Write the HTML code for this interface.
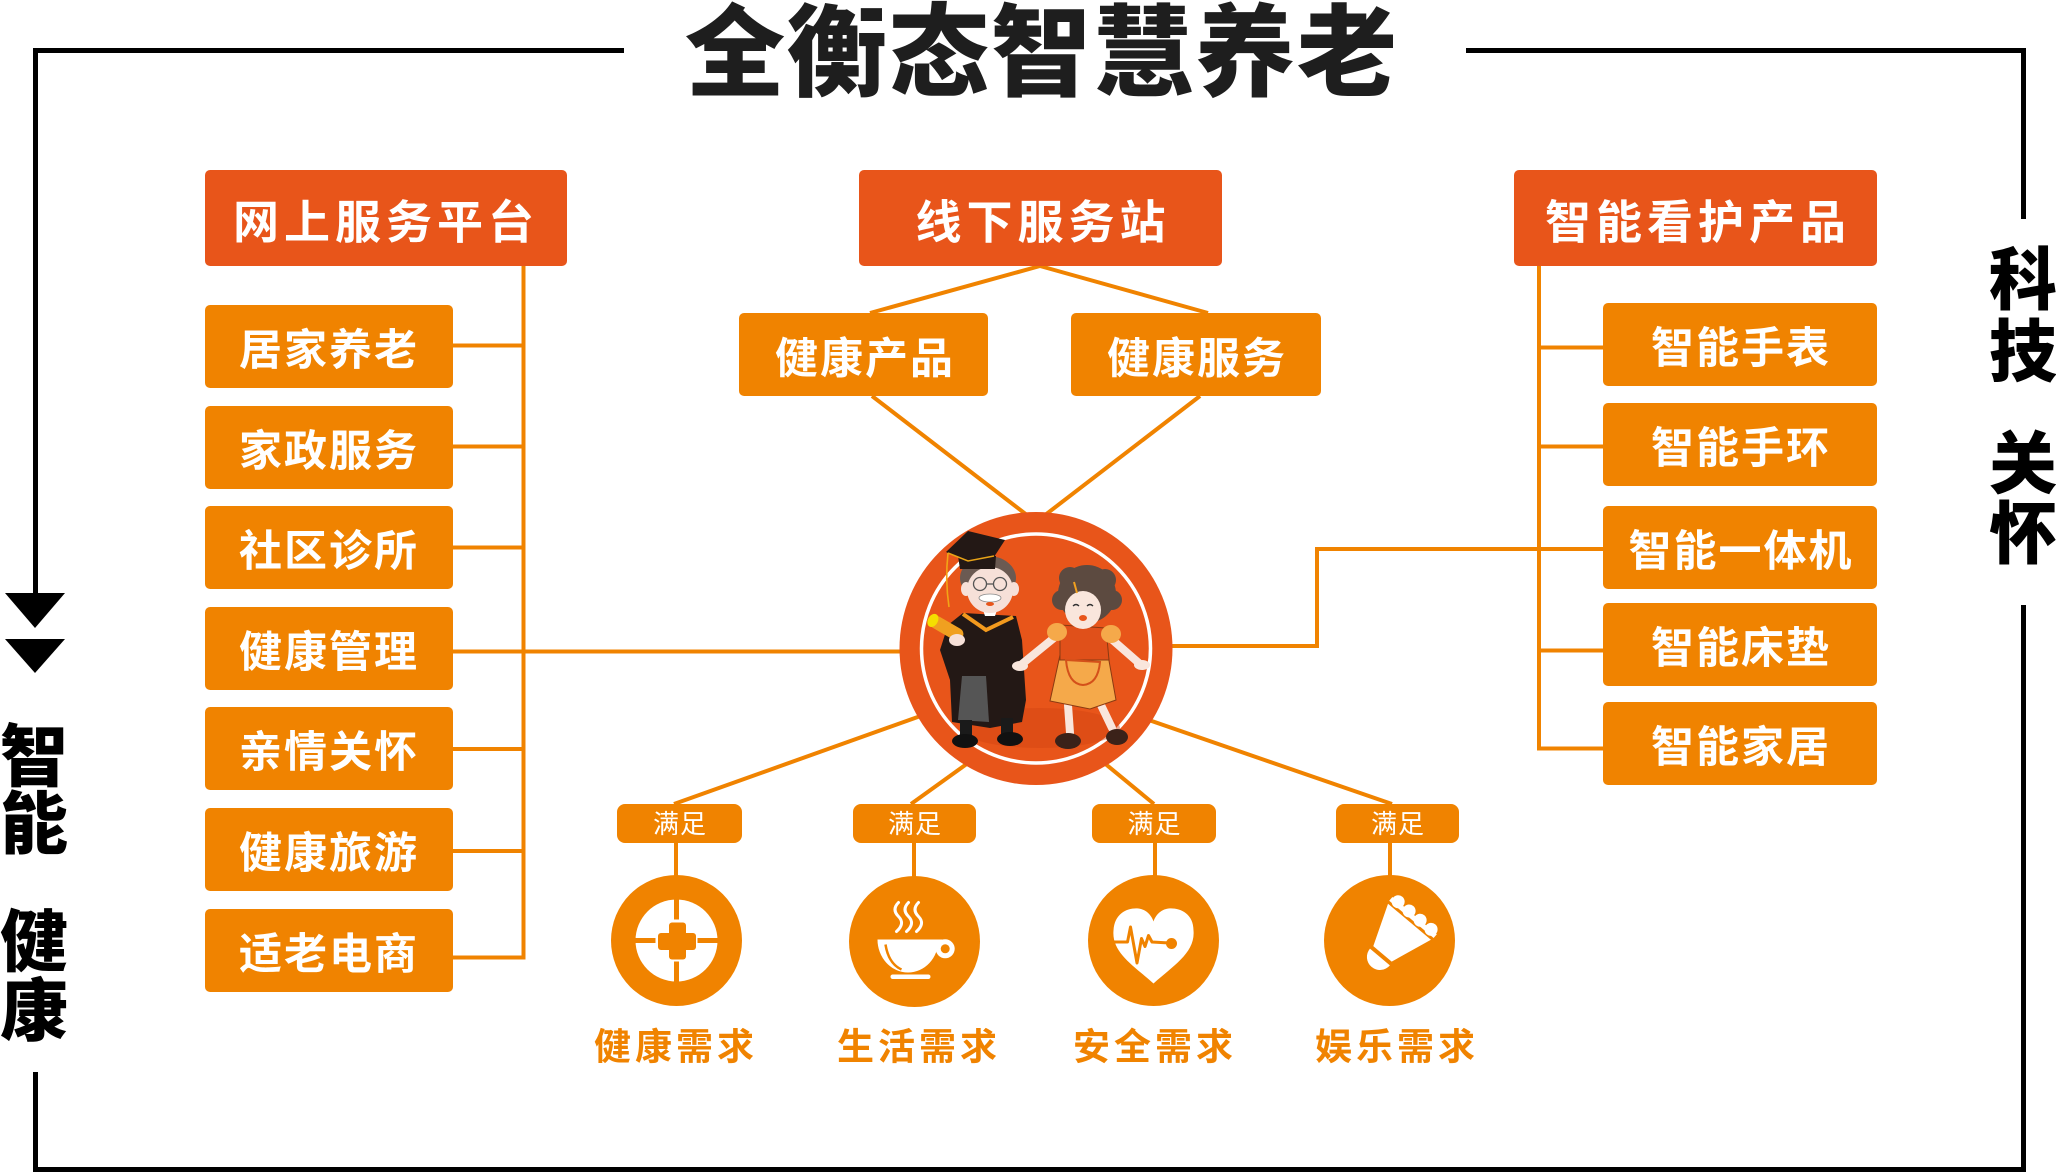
<!DOCTYPE html>
<html><head><meta charset="utf-8">
<style>
html,body{margin:0;padding:0;background:#fff;}
svg{display:block;}
text{font-family:"Liberation Sans","Noto Sans CJK SC",sans-serif;}
</style></head><body>
<svg width="2056" height="1172" viewBox="0 0 2056 1172" xmlns="http://www.w3.org/2000/svg">
<rect width="2056" height="1172" fill="#fff"/>

<!-- frame -->
<g stroke="#000" stroke-width="5" fill="none">
<path d="M624,50.5 H35.5 V596"/>
<path d="M35.5,1072 V1169.5 H2023.5 V605"/>
<path d="M1466,50.5 H2023.5 V219"/>
</g>
<polygon points="5,593 65,593 35,628" fill="#000"/>
<polygon points="5,639 65,639 35,673" fill="#000"/>

<g font-size="68" font-weight="900" fill="#000" text-anchor="middle">
<text x="34" y="781">智</text>
<text x="34" y="848">能</text>
<text x="34" y="966">健</text>
<text x="34" y="1035">康</text>
<text x="2023" y="304">科</text>
<text x="2023" y="376">技</text>
<text x="2023" y="488">关</text>
<text x="2023" y="558">怀</text>
</g>

<text x="1042" y="88" font-size="100" font-weight="900" letter-spacing="2" fill="#1e1e1e" text-anchor="middle">全衡态智慧养老</text>

<!-- orange connectors -->
<g stroke="#F08300" stroke-width="4" fill="none">
<path d="M523.5,266 V959.5"/>
<path d="M453,345.5 H523.5"/>
<path d="M453,446.5 H523.5"/>
<path d="M453,547.5 H523.5"/>
<path d="M453,651.5 H920"/>
<path d="M453,749 H523.5"/>
<path d="M453,851 H523.5"/>
<path d="M453,957.5 H525.5"/>

<path d="M1040,266 L870,313"/>
<path d="M1040,266 L1208,313"/>
<path d="M872,396 L1036,522"/>
<path d="M1200,396 L1036,522"/>

<path d="M1539,266 V750.5"/>
<path d="M1539,347.5 H1603"/>
<path d="M1539,446.5 H1603"/>
<path d="M1539,650.5 H1603"/>
<path d="M1539,748.5 H1603"/>
<path d="M1100,646 H1317 V549 H1603"/>

<path d="M930,712.6 L674,804"/>
<path d="M975,758 L911,804"/>
<path d="M1097,757 L1154,804"/>
<path d="M1140,717 L1392,804"/>

<path d="M676,843 V880"/>
<path d="M914,843 V880"/>
<path d="M1155,843 V880"/>
<path d="M1390,843 V880"/>
</g>

<!-- header boxes -->
<g fill="#E8551A">
<rect x="205" y="170" width="362" height="96" rx="5"/>
<rect x="859" y="170" width="363" height="96" rx="5"/>
<rect x="1514" y="170" width="363" height="96" rx="5"/>
</g>
<g font-size="46" font-weight="700" fill="#fff" text-anchor="middle" letter-spacing="5">
<text x="386" y="238.5">网上服务平台</text>
<text x="1043" y="238.5">线下服务站</text>
<text x="1698" y="238.5">智能看护产品</text>
</g>

<!-- item boxes -->
<g fill="#F08300">
<rect x="205" y="305" width="248" height="83" rx="5"/>
<rect x="205" y="406" width="248" height="83" rx="5"/>
<rect x="205" y="506" width="248" height="83" rx="5"/>
<rect x="205" y="607" width="248" height="83" rx="5"/>
<rect x="205" y="707" width="248" height="83" rx="5"/>
<rect x="205" y="808" width="248" height="83" rx="5"/>
<rect x="205" y="909" width="248" height="83" rx="5"/>

<rect x="739" y="313" width="249" height="83" rx="5"/>
<rect x="1071" y="313" width="250" height="83" rx="5"/>

<rect x="1603" y="303" width="274" height="83" rx="5"/>
<rect x="1603" y="403" width="274" height="83" rx="5"/>
<rect x="1603" y="506" width="274" height="83" rx="5"/>
<rect x="1603" y="603" width="274" height="83" rx="5"/>
<rect x="1603" y="702" width="274" height="83" rx="5"/>
</g>
<g font-size="43" font-weight="700" fill="#fff" text-anchor="middle" letter-spacing="2">
<text x="329" y="365">居家养老</text>
<text x="329" y="466">家政服务</text>
<text x="329" y="566">社区诊所</text>
<text x="329" y="667">健康管理</text>
<text x="329" y="767">亲情关怀</text>
<text x="329" y="868">健康旅游</text>
<text x="329" y="969">适老电商</text>

<text x="865" y="373.5">健康产品</text>
<text x="1197" y="373.5">健康服务</text>

<text x="1741" y="363">智能手表</text>
<text x="1741" y="463">智能手环</text>
<text x="1741" y="566">智能一体机</text>
<text x="1741" y="663">智能床垫</text>
<text x="1741" y="762">智能家居</text>
</g>

<!-- center circle with cartoon -->
<circle cx="1036" cy="648.5" r="136.5" fill="#E8551A"/>
<circle cx="1036" cy="648.5" r="114.5" fill="none" stroke="#fff" stroke-width="3.5"/>
<ellipse cx="1040" cy="728" rx="80" ry="20" fill="#d24512" opacity="0.45"/>

<!-- man -->
<g>
<path d="M963,613 L1016,616 L1022,640 L1026,700 L1022,722 L990,728 L952,722 L950,680 L940,650 L948,625 Z" fill="#231815"/>
<polygon points="962,676 986,676 989,722 958,720" fill="#555"/>
<polyline points="963,614 986,630 1013,617" fill="none" stroke="#f39a1e" stroke-width="4"/>
<polygon points="982,607 998,607 995,616 985,616" fill="#fff"/>
<rect x="960" y="720" width="12" height="18" fill="#1a1a1a"/>
<rect x="1001" y="718" width="12" height="18" fill="#1a1a1a"/>
<ellipse cx="965" cy="741" rx="13" ry="7" fill="#111"/>
<ellipse cx="1010" cy="739" rx="13" ry="7" fill="#111"/>
<ellipse cx="988" cy="578" rx="28" ry="22" fill="#6b5a52"/>
<ellipse cx="966" cy="589" rx="5" ry="7" fill="#f6e0d8"/>
<ellipse cx="1014" cy="589" rx="5" ry="7" fill="#f6e0d8"/>
<ellipse cx="990" cy="590" rx="23" ry="23" fill="#f6e0d8"/>
<circle cx="980" cy="584" r="6.5" fill="none" stroke="#555" stroke-width="1.3"/>
<circle cx="1000" cy="584" r="6.5" fill="none" stroke="#555" stroke-width="1.3"/>
<line x1="986.5" y1="584" x2="993.5" y2="584" stroke="#555" stroke-width="1.3"/>
<ellipse cx="990" cy="598" rx="11" ry="4" fill="#fff" stroke="#888" stroke-width="0.8"/>
<ellipse cx="990" cy="604" rx="4" ry="2" fill="#e8551a"/>
<polygon points="958,556 996,556 995,569 960,569" fill="#231815"/>
<polygon points="946,552 968,531 1005,540 994,557 968,562" fill="#231815"/>
<polyline points="948,553 968,561 994,556" fill="none" stroke="#e8a317" stroke-width="1.5"/>
<path d="M948,553 Q945,580 949,607" fill="none" stroke="#f2a516" stroke-width="1.6"/>
<g transform="rotate(30 947 628)">
<rect x="929" y="622" width="36" height="13" rx="6" fill="#f0a020"/>
<ellipse cx="931" cy="628.5" rx="5" ry="7" fill="#f5e000"/>
</g>
<ellipse cx="957" cy="640" rx="8" ry="6" fill="#f6e0d8"/>
</g>

<!-- woman -->
<g>
<path d="M1068,705 L1070,733" stroke="#f9e6dc" stroke-width="8" stroke-linecap="round"/>
<path d="M1100,703 L1112,728" stroke="#f9e6dc" stroke-width="8" stroke-linecap="round"/>
<ellipse cx="1068" cy="741" rx="13" ry="8" fill="#3b2219"/>
<ellipse cx="1117" cy="737" rx="11" ry="8" fill="#3b2219"/>
<path d="M1060,633 L1022,664" stroke="#f9e6dc" stroke-width="8" stroke-linecap="round"/>
<path d="M1108,636 L1140,664" stroke="#f9e6dc" stroke-width="8" stroke-linecap="round"/>
<ellipse cx="1020" cy="666" rx="8" ry="5" fill="#f9e6dc"/>
<ellipse cx="1142" cy="665" rx="8" ry="5" fill="#f9e6dc"/>
<polygon points="1060,655 1108,655 1116,700 1090,709 1050,701" fill="#f5a94a" stroke="#8a3a12" stroke-width="1"/>
<polygon points="1060,625 1106,628 1109,660 1060,660" fill="#e0501a" stroke="#8a3a12" stroke-width="1"/>
<path d="M1066,660 L1100,662 Q1098,684 1083,685 Q1068,684 1066,660 Z" fill="#f5a94a" stroke="#d4501a" stroke-width="2"/>
<ellipse cx="1057" cy="632" rx="10" ry="9" fill="#f5a94a"/>
<ellipse cx="1111" cy="634" rx="10" ry="9" fill="#f5a94a"/>
<circle cx="1087" cy="594" r="29" fill="#5c4a40"/>
<circle cx="1062" cy="600" r="10" fill="#5c4a40"/>
<circle cx="1112" cy="600" r="10" fill="#5c4a40"/>
<circle cx="1070" cy="578" r="11" fill="#5c4a40"/>
<circle cx="1105" cy="580" r="11" fill="#5c4a40"/>
<ellipse cx="1083" cy="610" rx="18" ry="19" fill="#f9e6dc"/>
<line x1="1074" y1="582" x2="1077" y2="593" stroke="#f0a020" stroke-width="2"/>
<path d="M1073,606 q3,-3 6,0 M1087,606 q3,-3 6,0" fill="none" stroke="#333" stroke-width="1.3"/>
<ellipse cx="1083" cy="618" rx="4" ry="3" fill="#e8551a"/>
</g>

<!-- satisfy boxes -->
<g fill="#F08300">
<rect x="617" y="804" width="125" height="39" rx="8"/>
<rect x="853" y="804" width="123" height="39" rx="8"/>
<rect x="1092" y="804" width="124" height="39" rx="8"/>
<rect x="1336" y="804" width="123" height="39" rx="8"/>
</g>
<g font-size="26" font-weight="400" fill="#fff" text-anchor="middle" letter-spacing="1">
<text x="680" y="833">满足</text>
<text x="915" y="833">满足</text>
<text x="1154.5" y="833">满足</text>
<text x="1398" y="833">满足</text>
</g>

<!-- icon 1 crosshair -->
<g transform="translate(676.5,940.5)" fill="#F08300">
<circle r="65.5"/>
<circle r="41" fill="#fff"/>
<rect x="-2.5" y="-42" width="5" height="21"/>
<rect x="-2.5" y="21" width="5" height="21"/>
<rect x="-42" y="-2.5" width="21" height="5"/>
<rect x="21" y="-2.5" width="21" height="5"/>
<rect x="-18.5" y="-7.5" width="38" height="17" rx="3"/>
<rect x="-7.5" y="-18" width="17" height="37" rx="3"/>
</g>

<!-- icon 2 cup -->
<g transform="translate(914.5,941.5)">
<circle r="65.5" fill="#F08300"/>
<g fill="none" stroke="#fff" stroke-width="3" stroke-linecap="round">
<path d="M-16,-39 q-7,7 0,14 t-2,15"/>
<path d="M-6,-39 q-7,7 0,14 t-2,15"/>
<path d="M4,-39 q-7,7 0,14 t-2,15"/>
</g>
<path d="M-37,-2 L24,-2 A30.5,33 0 0 1 -37,-2 Z" fill="#fff"/>
<path d="M-29,3 Q-26,22 -13,28" fill="none" stroke="#F08300" stroke-width="2.5"/>
<rect x="18" y="-2" width="10" height="8" fill="#fff"/>
<circle cx="30.7" cy="7.3" r="9.5" fill="#fff"/>
<circle cx="30.7" cy="7.3" r="4.5" fill="#F08300"/>
<rect x="-24" y="33" width="40" height="4.5" rx="2.2" fill="#fff"/>
</g>

<!-- icon 3 heart -->
<g transform="translate(1153.5,940.5)">
<circle r="65.5" fill="#F08300"/>
<path d="M0,43 C-20,25 -42,12 -40,-10 C-39,-28 -25,-33 -15,-32 C-7,-31 -2,-25 0,-19 C2,-25 7,-31 15,-32 C25,-33 40,-28 40,-10 C42,12 20,25 0,43 Z" fill="#fff"/>
<polyline points="-40,1.5 -26,1.5 -23,-13.5 -16.5,22.5 -12,-2 -8.5,6 -5,-5 -1.5,1.5 16,2.5" fill="none" stroke="#F08300" stroke-width="3" stroke-linejoin="round"/>
<circle cx="18" cy="3" r="5.5" fill="#F08300"/>
</g>

<!-- icon 4 shuttlecock -->
<g transform="translate(1389.5,940.5)">
<circle r="65.5" fill="#F08300"/>
<g transform="translate(0.7,4.2) rotate(40)" fill="#fff">
<polygon points="-28,-30 28,-30 12,12 -12,12"/>
<rect x="-29" y="-38" width="58" height="5"/>
<circle cx="-21.5" cy="-38" r="6.5"/>
<circle cx="-7.2" cy="-38" r="6.5"/>
<circle cx="7.2" cy="-38" r="6.5"/>
<circle cx="21.5" cy="-38" r="6.5"/>
<path d="M-13,16 H13 A13,13 0 0 1 -13,16 Z"/>
</g>
</g>

<!-- bottom labels -->
<g font-size="37" font-weight="700" fill="#F08300" text-anchor="middle" letter-spacing="4">
<text x="676" y="1059.5">健康需求</text>
<text x="919" y="1059.5">生活需求</text>
<text x="1155" y="1059.5">安全需求</text>
<text x="1397" y="1059.5">娱乐需求</text>
</g>
</svg>
</body></html>
